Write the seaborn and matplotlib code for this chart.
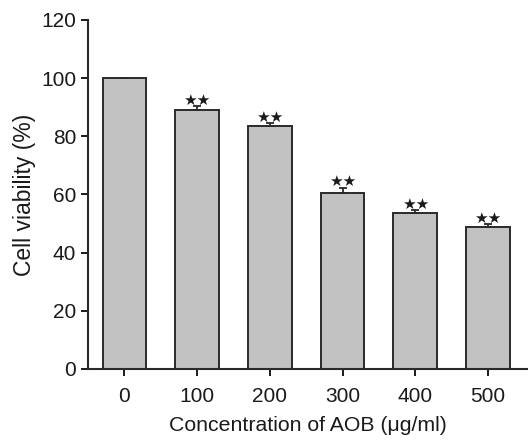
import matplotlib
matplotlib.use("Agg")
import matplotlib.pyplot as plt
import seaborn as sns
import pandas as pd

categories = ["0", "100", "200", "300", "400", "500"]
viability = [100.0, 89.0, 83.5, 60.5, 53.7, 48.8]
errors = [0.0, 1.3, 1.0, 1.8, 0.9, 1.0]
signif = ["", "★★", "★★", "★★", "★★", "★★"]

sns.set_theme(style="ticks")
plt.rcParams["font.family"] = ["Liberation Sans", "DejaVu Sans"]

df = pd.DataFrame({"conc": categories, "val": viability})

fig = plt.figure(figsize=(5.28, 4.44), dpi=100)
ax = fig.add_axes([0.1667, 0.169, 0.8333, 0.786])

sns.barplot(data=df, x="conc", y="val", order=categories, color="#c2c2c2",
            edgecolor="#2a2a2a", linewidth=1.4, width=0.6, saturation=1,
            errorbar=None, ax=ax)
ax.errorbar(range(len(categories)), viability, yerr=[[0]*len(errors), errors],
            fmt="none", ecolor="#2a2a2a", elinewidth=1.3, capsize=3, capthick=1.3)

for i, (v, e, s) in enumerate(zip(viability, errors, signif)):
    if s:
        ax.annotate(s, (i, v + e), xytext=(0, -1), textcoords="offset points",
                    ha="center", va="bottom", fontsize=11, color="#1a1a1a",
                    family=["DejaVu Sans"])

ax.set_ylim(0, 120)
ax.set_yticks([0, 20, 40, 60, 80, 100, 120])
ax.set_xlim(-0.5, 5.55)
ax.set_xlabel("Concentration of AOB (μg/ml)", fontsize=15.3, color="#1a1a1a", labelpad=7)
ax.set_ylabel("Cell viability (%)", fontsize=16.5, color="#1a1a1a", labelpad=4)
ax.tick_params(axis="both", labelsize=15, colors="#1a1a1a", width=1.4, length=5,
               direction="out")
ax.tick_params(axis="x", pad=8)
for sp in ["top", "right"]:
    ax.spines[sp].set_visible(False)
for sp in ["left", "bottom"]:
    ax.spines[sp].set_linewidth(1.5)
    ax.spines[sp].set_color("#2a2a2a")

fig.savefig("out.png", dpi=100)
